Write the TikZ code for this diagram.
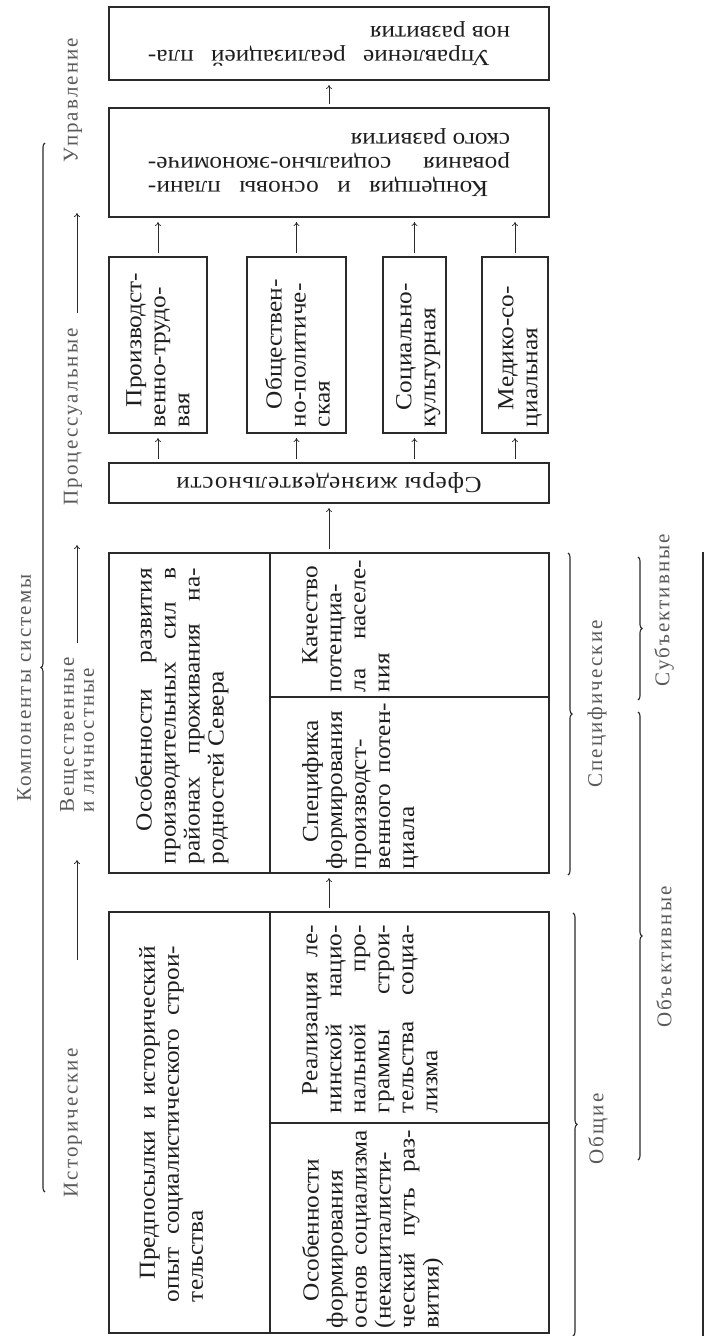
\documentclass[tikz,border=0pt]{standalone}
\usepackage{fontspec}
\setmainfont{Liberation Serif}
\newfontfamily\bxfam{Liberation Serif}[FakeStretch=1.1]
\usetikzlibrary{arrows.meta,decorations.pathreplacing,calc}
\definecolor{ln}{HTML}{2A2A2A}
\definecolor{tx}{HTML}{1E1E1E}
\definecolor{lb}{HTML}{5A5A5A}
\newcommand{\mybxf}{\bxfam\fontsize{23}{24}\selectfont}
\newcommand{\mylbf}{\fontsize{21}{20}\selectfont\addfontfeature{LetterSpace=10}}
\tikzset{
  cell/.style={draw=ln, line width=1.1pt, inner sep=0pt, outer sep=0pt, anchor=north west},
  btxt/.style={text=tx, inner sep=0pt, align=justify, font=\mybxf,
    execute at begin node={\hyphenpenalty=10000 \exhyphenpenalty=10000 \tolerance=10000 \hbadness=10000}},
  stxt/.style={text=tx, inner sep=0pt, font=\mybxf\addfontfeature{LetterSpace=3}},
  lab/.style={text=lb, inner sep=0pt, font=\mylbf, rotate=90},
  arr/.style={draw=ln, line width=0.7pt, -{To[length=4pt,width=6pt]}, shorten >=5pt, shorten <=4pt},
  larr/.style={draw=ln, line width=0.8pt, -{To[length=4pt,width=6pt]}},
  brc/.style={draw=ln, line width=1.1pt, decorate, decoration={brace, amplitude=4pt}},
}
\begin{document}
\begin{tikzpicture}[x=1pt,y=-1pt]
\useasboundingbox[fill=white] (0,0) rectangle (707,1336);

% ---- boxes
\node[cell, minimum width=440pt, minimum height=73pt] (upr) at (109,7) {};
\node[cell, minimum width=440pt, minimum height=109pt] (konc) at (109,108) {};
\node[cell, minimum width=98pt, minimum height=176pt] (s1) at (109,257) {};
\node[cell, minimum width=99pt, minimum height=176pt] (s2) at (247,257) {};
\node[cell, minimum width=63pt, minimum height=176pt] (s3) at (383,257) {};
\node[cell, minimum width=66pt, minimum height=176pt] (s4) at (482,257) {};
\node[cell, minimum width=440pt, minimum height=40pt] (sf) at (109,463) {};
\node[cell, minimum width=161pt, minimum height=320pt] (c1) at (109,553) {};
\node[cell, minimum width=279pt, minimum height=144pt] (c2) at (270,553) {};
\node[cell, minimum width=279pt, minimum height=176pt] (c3) at (270,697) {};
\node[cell, minimum width=161pt, minimum height=421pt] (p1) at (109,912) {};
\node[cell, minimum width=279pt, minimum height=211pt] (p2) at (270,912) {};
\node[cell, minimum width=279pt, minimum height=210pt] (p3) at (270,1123) {};

% ---- box texts
\node[btxt, text width=362pt, rotate=180] (tU) at (upr) {\hspace*{20pt}Управление реализацией пла-\linebreak нов развития};
\node[btxt, text width=362pt, rotate=180] (tK) at (konc) {\hspace*{22pt}Концепция и основы плани-\linebreak рования социально-экономиче-\linebreak ского развития};
\node[stxt, rotate=180] (tS) at (sf) {Сферы жизнедеятельности};

\node[btxt, text width=160pt, rotate=90, anchor=north] (t1) at (126,347) {\hspace*{20pt}Производст-\linebreak венно-трудо-\linebreak вая};
\node[btxt, text width=160pt, rotate=90, anchor=north] (t2) at (265,347) {\hspace*{18pt}Обществен-\linebreak но-политиче-\linebreak ская};
\node[btxt, text width=160pt, rotate=90, anchor=north] (t3) at (396,347) {\hspace*{17pt}Социально-\linebreak культурная};
\node[btxt, text width=160pt, rotate=90, anchor=north] (t4) at (498,347) {\hspace*{17pt}Медико-со-\linebreak циальная};

\node[btxt, text width=296pt, rotate=90, anchor=north] (tc1) at (135,716) {\hspace*{33pt}Особенности развития\linebreak производительных сил в\linebreak районах проживания на-\linebreak родностей Севера};
\node[btxt, text width=132pt, rotate=90, anchor=north] (tc2) at (302,626) {\hspace*{28pt}Качество\linebreak потенциа-\linebreak ла населе-\linebreak ния};
\node[btxt, text width=166pt, rotate=90, anchor=north] (tc3) at (302,786) {\hspace*{27pt}Специфика\linebreak формирования\linebreak производст-\linebreak венного потен-\linebreak циала};

\node[btxt, text width=356pt, rotate=90, anchor=north] (tp1) at (139,1124) {\hspace*{23pt}Предпосылки и исторический\linebreak опыт социалистического строи-\linebreak тельства};
\node[btxt, text width=188pt, rotate=90, anchor=north] (tp2) at (302,1019) {\hspace*{18pt}Реализация ле-\linebreak нинской нацио-\linebreak нальной про-\linebreak граммы строи-\linebreak тельства социа-\linebreak лизма};
\node[btxt, text width=198pt, rotate=90, anchor=north] (tp3) at (302,1229) {\hspace*{27pt}Особенности\linebreak формирования\linebreak основ социализма\linebreak (некапиталисти-\linebreak ческий путь раз-\linebreak вития)};

% ---- arrows between boxes
\draw[arr] (konc.north) -- (upr.south);
\foreach \s in {s1,s2,s3,s4}{
  \draw[arr] (\s.north) -- (\s.north |- konc.south);
  \draw[arr] (\s.south |- sf.north) -- (\s.south);
}
\draw[arr] (c2.north -| sf.south) -- (sf.south);
\draw[arr] (p2.north -| sf.south) -- (c3.south -| sf.south);

% ---- left labels
\node[lab] (lK) at (24,688) {Компоненты системы};
\node[lab] (lU) at (73,100) {Управление};
\node[lab] (lP) at (73,417) {Процессуальные};
\node[lab, align=left] (lV) at (77,735) {Вещественные\\и личностные};
\node[lab] (lI) at (73,1123) {Исторические};

\coordinate (a1t) at (77,213); \coordinate (a1b) at (77,313);
\coordinate (a2t) at (77,545); \coordinate (a2b) at (77,643);
\coordinate (a3t) at (77,860); \coordinate (a3b) at (77,960);
\draw[larr] (a1b) -- (a1t);
\draw[larr] (a2b) -- (a2t);
\draw[larr] (a3b) -- (a3t);

\draw[brc] (45,1192) -- (45,143);

% ---- right brackets
\draw[brc] (568,553) -- (568,875);
\draw[brc] (573,913) -- (573,1336);
\draw[brc] (638,557) -- (638,700);
\draw[brc] (638,712) -- (638,1160);
\draw[draw=ln, line width=2pt] (703,552) -- (703,1336);

\node[lab] (lSp) at (597,704) {Специфические};
\node[lab] (lOb) at (598,1129) {Общие};
\node[lab] (lSu) at (664,610) {Субъективные};
\node[lab] (lOj) at (664,957) {Объективные};
\end{tikzpicture}
\end{document}
